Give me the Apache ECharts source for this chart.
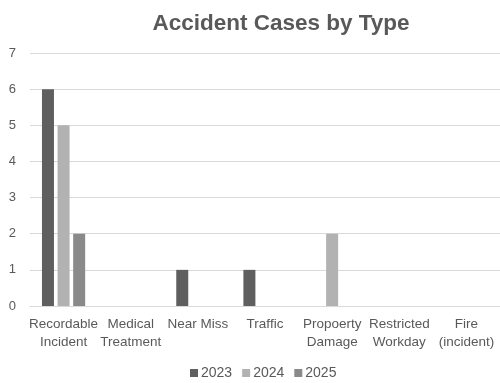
<!DOCTYPE html>
<html><head><meta charset="utf-8">
<script src="https://cdn.jsdelivr.net/npm/echarts@6/dist/echarts.min.js"></script>
<style>html,body{margin:0;padding:0;background:#fff}#c{width:500px;height:383px}</style>
</head><body><div id="c"></div>
<script>
var categories = ["Recordable\nIncident","Medical\nTreatment","Near Miss","Traffic","Propoerty\nDamage","Restricted\nWorkday","Fire\n(incident)"];
var s2023 = [6,0,1,1,0,0,0];
var s2024 = [5,0,0,0,2,0,0];
var s2025 = [2,0,0,0,0,0,0];
var seriesNames = ["2023","2024","2025"];
var colors = ["#5f5f5f","#b2b2b2","#8a8a8a"];
var chart = echarts.init(document.getElementById('c'));
var font = "'Liberation Sans', Arial, sans-serif";
chart.setOption({
  animation:false,
  title:{text:"Accident Cases by Type",left:276,top:7,textAlign:'center',
    textStyle:{fontFamily:font,fontSize:22.5,fontWeight:'bold',color:'#595959'}},
  legend:{top:361,left:185,itemWidth:8,itemHeight:8,itemGap:10,icon:'rect',
    textStyle:{fontFamily:font,fontSize:14,color:'#595959',padding:[0,0,0,-2]},data:seriesNames},
  grid:{left:30,right:0,top:53,bottom:77,containLabel:false},
  xAxis:{type:'category',data:categories,
    axisLine:{lineStyle:{color:'#d9d9d9'}},axisTick:{show:false},
    axisLabel:{interval:0,fontFamily:font,fontSize:13.5,color:'#595959',lineHeight:18,margin:9}},
  yAxis:{type:'value',min:0,max:7,interval:1,
    axisLine:{show:false},axisTick:{show:false},
    splitLine:{lineStyle:{color:'#d9d9d9'}},
    axisLabel:{fontFamily:font,fontSize:13,color:'#595959',margin:14}},
  series:[
    {name:seriesNames[0],type:'bar',data:s2023,barWidth:12,barGap:'30%',itemStyle:{color:colors[0]}},
    {name:seriesNames[1],type:'bar',data:s2024,barWidth:12,barGap:'30%',itemStyle:{color:colors[1]}},
    {name:seriesNames[2],type:'bar',data:s2025,barWidth:12,barGap:'30%',itemStyle:{color:colors[2]}}
  ]
});
</script></body></html>
